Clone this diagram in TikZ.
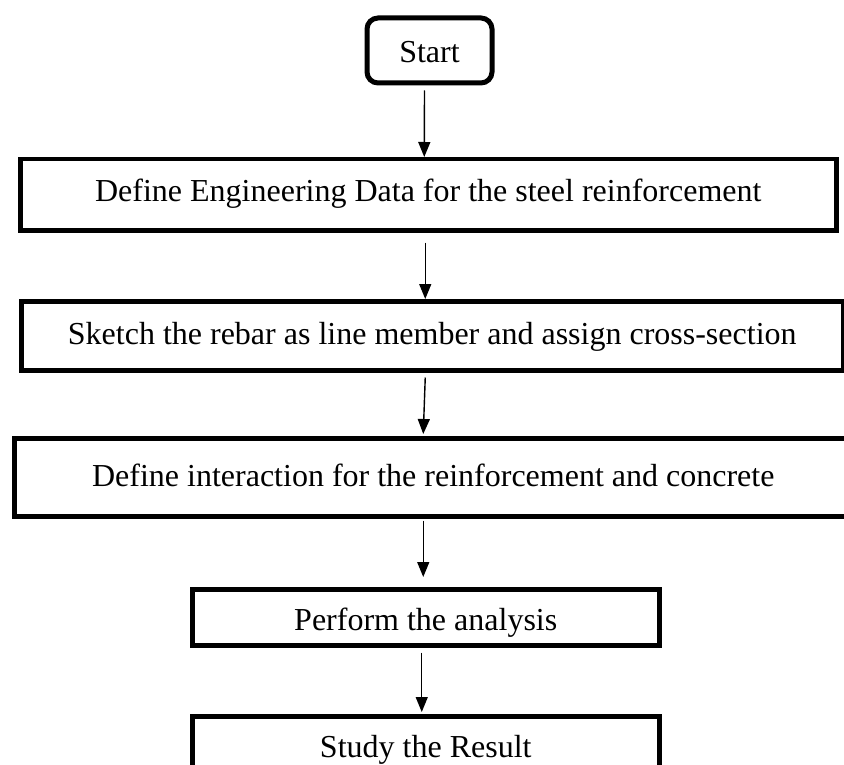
\documentclass[tikz,border=0pt]{standalone}
\usepackage{fontspec}
\setmainfont{Liberation Serif}
\usetikzlibrary{arrows.meta}

\begin{document}
\begin{tikzpicture}[x=1pt,y=-1pt,
  every node/.style={font=\fontsize{32}{38}\selectfont, inner sep=0pt, anchor=north west},
  stepbox/.style={draw, line width=4.5pt, rectangle, align=center},
  startbox/.style={draw, line width=5pt, rounded corners=11pt, rectangle},
  arr/.style={line width=1.4pt, -{Triangle[width=12pt,length=15pt]}}]
  \useasboundingbox (0,0) rectangle (844,765);
  \clip (0,0) rectangle (844,765);

  % terminal
  \node[startbox, minimum width=125pt, text height=44.5pt, text depth=20.5pt] (start) at (364.5,15.5) {Start};

  % process steps
  \node[stepbox, minimum width=816pt, text height=42pt, text depth=29pt] (b1) at (18,157)
    {Define Engineering Data for the steel reinforcement};
  \node[stepbox, minimum width=822pt, text height=43pt, text depth=26pt] (b2) at (19,299)
    {Sketch the rebar as line member and assign cross-section};
  \node[stepbox, minimum width=838pt, text height=48pt, text depth=30pt] (b3) at (12,436)
    {Define interaction for the reinforcement and concrete};
  \node[stepbox, minimum width=467pt, text height=41pt, text depth=15pt] (b4) at (190,587)
    {Perform the analysis};
  \node[stepbox, minimum width=467pt, text height=41pt, text depth=35pt] (b5) at (190,714)
    {Study the Result};

  % flow
  \draw[arr] ([xshift=-5pt,yshift=-5pt]start.south) -- ([xshift=-4pt]b1.north);
  \draw[arr] ([xshift=-3pt,yshift=-10pt]b1.south) -- ([xshift=-7pt]b2.north);
  \draw[arr] ([xshift=-7pt,yshift=-5pt]b2.south) -- ([xshift=-10pt,yshift=2pt]b3.north);
  \draw[arr] ([xshift=-10pt,yshift=-2pt]b3.south) -- ([xshift=-2.5pt,yshift=10pt]b4.north);
  \draw[arr] ([xshift=-4pt,yshift=-5pt]b4.south) -- ([xshift=-4pt,yshift=2pt]b5.north);
\end{tikzpicture}
\end{document}
